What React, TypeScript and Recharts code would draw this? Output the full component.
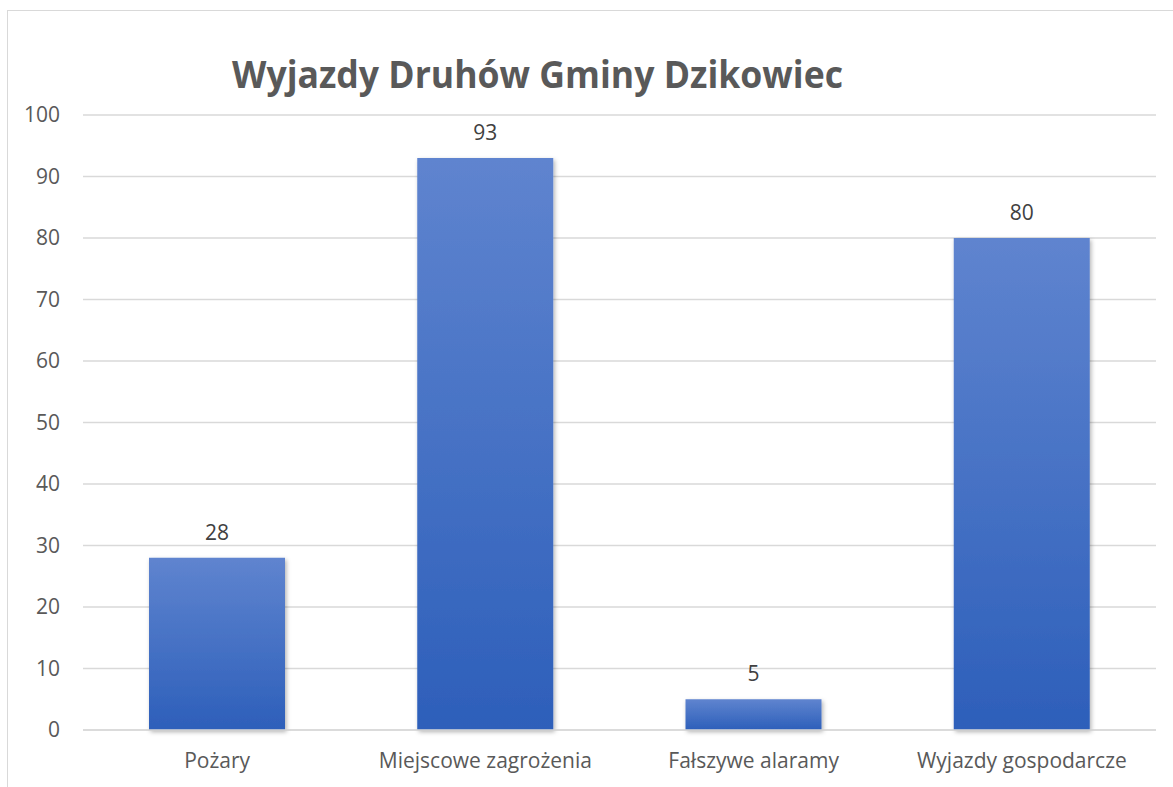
import React from 'react';
import { BarChart, Bar, XAxis, YAxis, CartesianGrid, LabelList } from 'recharts';

const categories = ['Pożary', 'Miejscowe zagrożenia', 'Fałszywe alaramy', 'Wyjazdy gospodarcze'];
const values = [28, 93, 5, 80];
const yTicks = [0, 10, 20, 30, 40, 50, 60, 70, 80, 90, 100];
const title = 'Wyjazdy Druhów Gminy Dzikowiec';

const data = categories.map((name, i) => ({ name, value: values[i] }));

const FONT = '"Open Sans", "DejaVu Sans", sans-serif';

export default function App() {
  return (
    <div
      style={{
        position: 'absolute',
        left: 7,
        top: 10,
        width: 1180,
        height: 790,
        border: '1px solid #d9d9d9',
        background: '#fff',
        fontFamily: FONT,
      }}
    >
      {/* chart title */}
      <svg width={1178} height={100} style={{ position: 'absolute', left: 0, top: 0 }}>
        <text
          x={224}
          y={77}
          fontSize={37}
          fontWeight={700}
          fill="#595959"
          textLength={611}
          lengthAdjust="spacingAndGlyphs"
          fontFamily={FONT}
        >
          {title}
        </text>
      </svg>
      <div style={{ position: 'absolute', left: 0, top: 0 }}>
        <BarChart
          width={1178}
          height={788}
          data={data}
          margin={{ top: 104, right: 30, left: 0, bottom: 29 }}
        >
          <defs>
            <linearGradient id="barFill" x1="0" y1="0" x2="0" y2="1">
              <stop offset="0%" stopColor="#5f84cf" />
              <stop offset="100%" stopColor="#2d5fba" />
            </linearGradient>
            <filter id="barShadow" x="-10%" y="-10%" width="130%" height="130%">
              <feDropShadow dx="1.5" dy="2" stdDeviation="2" floodColor="#000" floodOpacity="0.3" />
            </filter>
          </defs>
          <CartesianGrid vertical={false} stroke="#d9d9d9" strokeWidth={1.5} />
          <XAxis
            dataKey="name"
            height={40}
            tickLine={false}
            tickSize={0}
            tickMargin={23}
            axisLine={{ stroke: '#d9d9d9', strokeWidth: 1.5 }}
            tick={{ fill: '#595959', fontSize: 21, fontFamily: FONT }}
            interval={0}
          />
          <YAxis
            width={75}
            domain={[0, 100]}
            ticks={yTicks}
            axisLine={false}
            tickLine={false}
            tickSize={0}
            tickMargin={23}
            tick={{ fill: '#595959', fontSize: 21, fontFamily: FONT }}
          />
          <Bar
            dataKey="value"
            fill="url(#barFill)"
            barSize={136}
            filter="url(#barShadow)"
            isAnimationActive={false}
          >
            <LabelList
              dataKey="value"
              position="top"
              offset={18}
              fill="#404040"
              fontSize={21}
              fontFamily={FONT}
            />
          </Bar>
        </BarChart>
      </div>
    </div>
  );
}
